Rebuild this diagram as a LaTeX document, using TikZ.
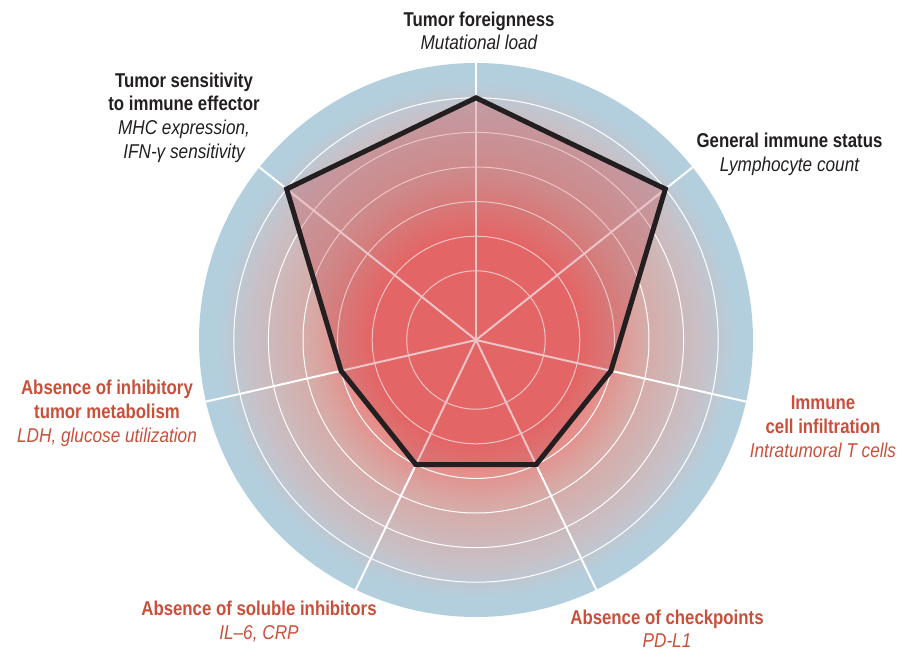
\documentclass[tikz,border=0pt]{standalone}
\usepackage{fontspec}
\setmainfont{Liberation Sans}
\newfontfamily\headfont{Liberation Sans}[FakeStretch=0.84]
\newfontfamily\notefont{Liberation Sans}[FakeStretch=0.86]
\newcommand{\headline}{\headfont\bfseries\upshape}
\newcommand{\noteline}{\notefont\mdseries\itshape}
\usepackage{tikz}
\usetikzlibrary{shadings}

\definecolor{inkdark}{RGB}{35,31,32}
\definecolor{inkred}{RGB}{200,80,58}
\definecolor{glowred}{RGB}{245,120,116}
\definecolor{glowrose}{RGB}{226,148,144}
\definecolor{glowpink}{RGB}{215,170,166}
\definecolor{glowgray}{RGB}{199,193,199}
\definecolor{glowblue}{RGB}{179,207,222}
\definecolor{overlay}{RGB}{190,60,70}

\pgfdeclareradialshading{radarglow}{\pgfpoint{0bp}{0bp}}{%
  color(0bp)=(glowred); color(9.5bp)=(glowred); color(12.5bp)=(glowrose);
  color(15bp)=(glowpink); color(20.5bp)=(glowgray); color(23.5bp)=(glowblue);
  color(50bp)=(glowblue)}

\tikzset{
  ring/.style={white, line width=1pt},
  spoke/.style={white, line width=2pt},
  profile/.style={draw=inkdark, line width=5pt, line join=miter,
    fill=overlay, fill opacity=0.3},
  axislabel/.style={align=center, inner sep=0pt,
    font=\fontsize{20pt}{23.7pt}\selectfont},
  darkaxis/.style={axislabel, text=inkdark},
  redaxis/.style={axislabel, text=inkred}
}

\begin{document}
\begin{tikzpicture}[x=1pt, y=1pt]
  \useasboundingbox (-476,-319) rectangle (445,340);
  \coordinate (O) at (0,0);
  \shade[shading=radarglow] (O) circle (277);
  \foreach \k in {2,...,7}
    \draw[ring] (O) circle (34.6*\k);
  \foreach \i in {0,...,6} {
    \coordinate (A\i) at ({90-360/7*\i}:277);
    \draw[spoke] (O) -- (A\i);
  }
  % profile, in rings from the centre
  \foreach \v [count=\i from 0] in {7,7,4,4,4,4,7}
    \coordinate (V\i) at ({90-360/7*\i}:34.6*\v);
  \draw[profile] (V0) -- (V1) -- (V2) -- (V3) -- (V4) -- (V5) -- (V6) -- cycle;

  \node[darkaxis] (foreign) at (3,309)
    {\headline Tumor foreignness\\\noteline Mutational load};
  \node[darkaxis] (status) at (313.5,185.6)
    {\headline General immune status\\\noteline Lymphocyte count};
  \node[redaxis] (infiltration) at (347,-86.6)
    {\headline Immune\\\headline cell infiltration\\\noteline Intratumoral T cells};
  \node[redaxis] (checkpoints) at (191,-288.7)
    {\headline Absence of checkpoints\\\noteline PD-L1};
  \node[redaxis] (soluble) at (-217,-281.8)
    {\headline Absence of soluble inhibitors\\\noteline IL–6, CRP};
  \node[redaxis] (metabolism) at (-369,-73.4)
    {\headline Absence of inhibitory\\\headline tumor metabolism\\\noteline LDH, glucose utilization};
  \node[darkaxis] (sensitivity) at (-292,222.5)
    {\headline Tumor sensitivity\\\headline to immune effector\\\noteline MHC expression,\\\noteline IFN-γ sensitivity};
\end{tikzpicture}
\end{document}
